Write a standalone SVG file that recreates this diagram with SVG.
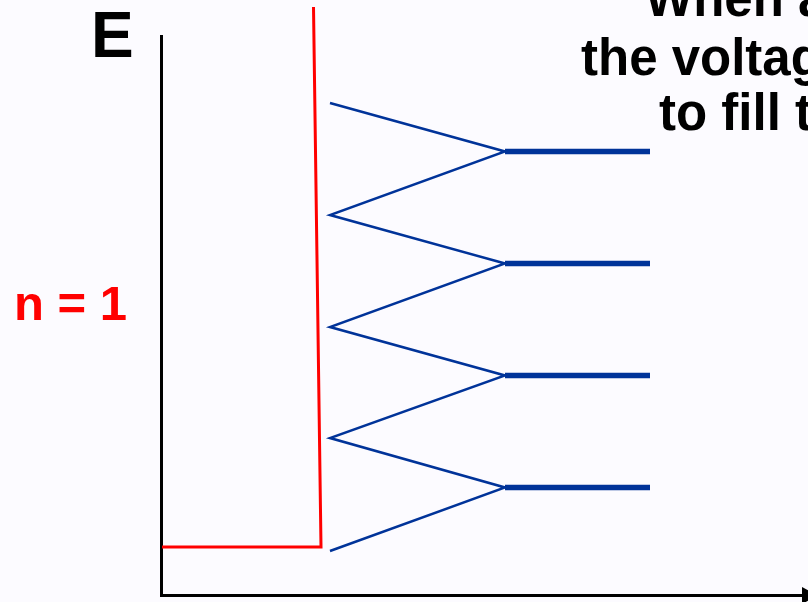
<svg xmlns="http://www.w3.org/2000/svg" width="808" height="602" viewBox="0 0 808 602">
<style>
.t{font-family:"Liberation Sans",Arial,sans-serif;font-weight:bold}
.axis{stroke:#000;stroke-width:3;fill:none}
.well{stroke:#ff0000;stroke-width:3;fill:none}
.zig{stroke:#003399;stroke-width:2.5;fill:none;stroke-linejoin:miter}
.lvl{stroke:#003399;stroke-width:5.5;fill:none}
</style>
<rect width="808" height="602" fill="#fcfbff"/>
<g id="title">
<text class="t" x="645" y="16" font-size="51" fill="#000">When a</text>
<text class="t" x="581" y="75" font-size="51" fill="#000">the voltag</text>
<text class="t" x="659" y="130" font-size="51" fill="#000">to fill t</text>
</g>
<g id="axes">
<text class="t" x="91" y="57" font-size="64" fill="#000">E</text>
<polyline class="axis" points="161.5,35 161.5,595.5 803,595.5"/>
<polygon points="802,587 818,595.5 802,604" fill="#000"/>
</g>
<g id="n1">
<text class="t" x="14" y="320" font-size="49" fill="#ff0000">n = 1</text>
</g>
<g id="well">
<polyline class="well" points="313.5,7 321,547 162,547"/>
</g>
<g id="connectors">
<polyline class="zig" points="330,103 505,151.5 330,215 505,263.5 330,327 505,375.5 330,438 505,487.5 330,551"/>
</g>
<g id="levels">
<line class="lvl" x1="505" y1="151.5" x2="650" y2="151.5"/>
<line class="lvl" x1="505" y1="263.5" x2="650" y2="263.5"/>
<line class="lvl" x1="505" y1="375.5" x2="650" y2="375.5"/>
<line class="lvl" x1="505" y1="487.5" x2="650" y2="487.5"/>
</g>
</svg>
